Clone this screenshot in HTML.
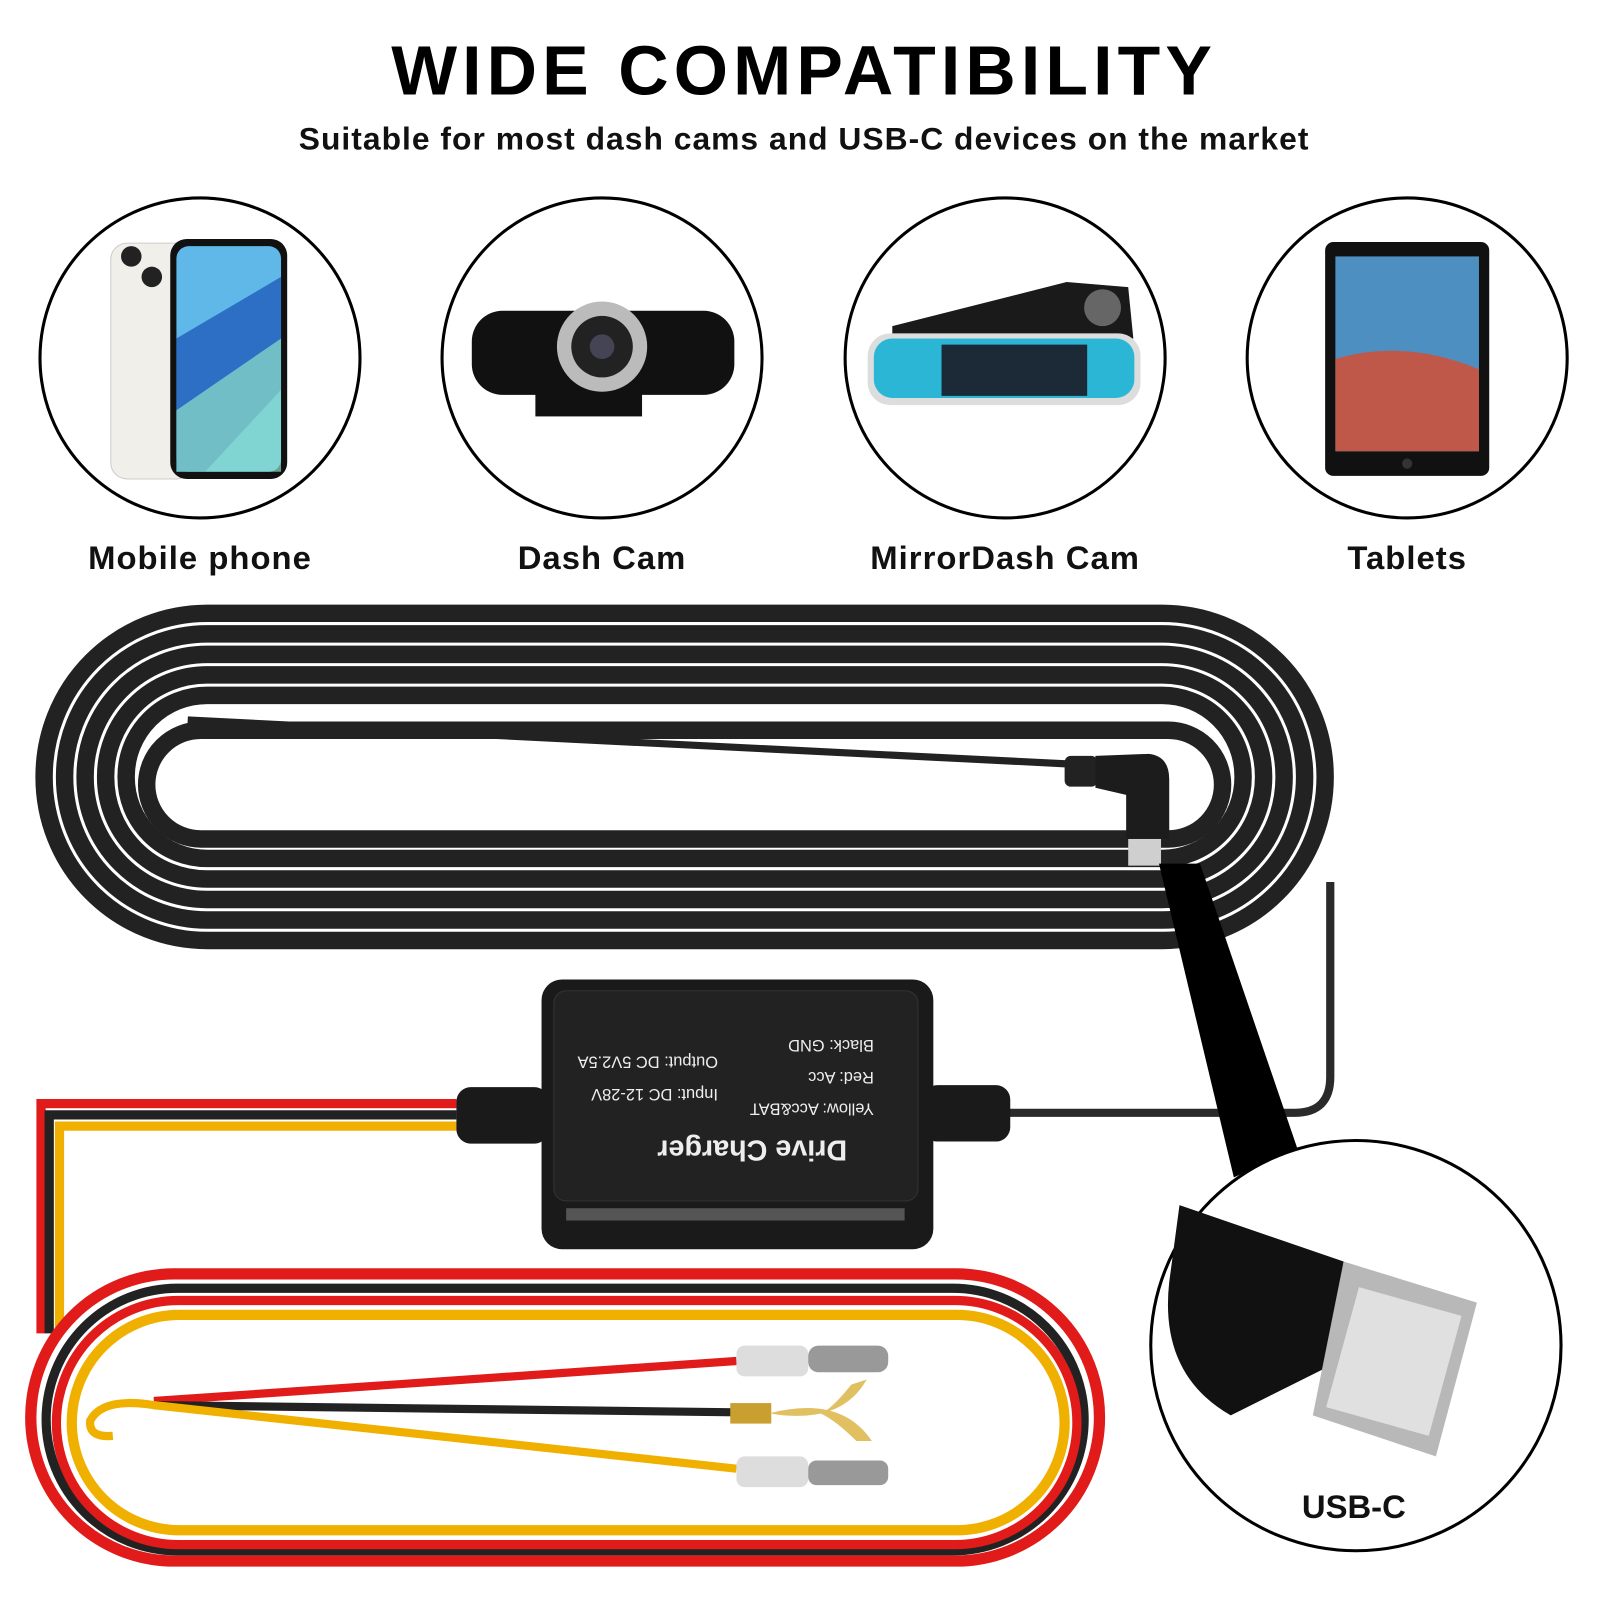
<!DOCTYPE html>
<html><head><meta charset="utf-8"><style>
html,body{margin:0;padding:0;background:#fff}
svg{display:block}
text{font-family:"Liberation Sans",sans-serif;font-weight:bold}
</style></head><body>
<svg width="1600" height="1600" viewBox="0 0 1560 1560" xmlns="http://www.w3.org/2000/svg">
<rect width="1560" height="1560" fill="#fff"/>
<text x="784" y="92" font-size="68" text-anchor="middle" fill="#000" letter-spacing="5">WIDE COMPATIBILITY</text>
<text x="784" y="146" font-size="31" text-anchor="middle" fill="#111" letter-spacing="1">Suitable for most dash cams and USB-C devices on the market</text>

<g fill="none" stroke="#000" stroke-width="3">
<circle cx="195" cy="349" r="156"/><circle cx="587" cy="349" r="156"/>
<circle cx="980" cy="349" r="156"/><circle cx="1372" cy="349" r="156"/>
</g>
<rect x="108" y="237" width="80" height="230" rx="16" fill="#f1efe9" stroke="#ccc"/>
<circle cx="128" cy="250" r="10" fill="#222"/><circle cx="148" cy="270" r="10" fill="#222"/>
<rect x="166" y="233" width="114" height="234" rx="16" fill="#111"/>
<rect x="172" y="240" width="102" height="220" rx="12" fill="#5fb8e8"/>
<path d="M172 330 L274 270 L274 380 L200 460 L172 460Z" fill="#2c6fc4"/>
<path d="M172 400 L274 330 L274 460 L172 460Z" fill="#8fe0c8" opacity=".7"/>
<rect x="460" y="303" width="256" height="82" rx="30" fill="#111"/>
<rect x="522" y="380" width="104" height="26" fill="#111"/>
<circle cx="587" cy="338" r="44" fill="#bbb"/><circle cx="587" cy="338" r="30" fill="#222"/><circle cx="587" cy="338" r="12" fill="#445"/>
<path d="M870 318 L1040 275 L1100 280 L1105 330 L870 330Z" fill="#1a1a1a"/>
<circle cx="1075" cy="300" r="18" fill="#666"/>
<rect x="846" y="325" width="266" height="70" rx="22" fill="#ddd"/>
<rect x="852" y="330" width="254" height="58" rx="18" fill="#2cb6d6"/>
<rect x="918" y="336" width="142" height="50" fill="#1c2a38"/>
<rect x="1292" y="236" width="160" height="228" rx="8" fill="#111"/>
<rect x="1302" y="250" width="140" height="190" fill="#4d8fc0"/>
<path d="M1302 350 Q1370 330 1442 360 L1442 440 L1302 440Z" fill="#c0584a"/>
<circle cx="1372" cy="452" r="5" fill="#333"/>

<g font-size="32" text-anchor="middle" fill="#111" letter-spacing="1">
<text x="195" y="555">Mobile phone</text><text x="587" y="555">Dash Cam</text>
<text x="980" y="555">MirrorDash Cam</text><text x="1372" y="555">Tablets</text>
</g>

<g fill="none" stroke="#222" stroke-width="17">
<rect x="43" y="598" width="1249" height="319" rx="159"/>
<rect x="63" y="618" width="1209" height="279" rx="139"/>
<rect x="83" y="638" width="1169" height="239" rx="119"/>
<rect x="103" y="658" width="1129" height="199" rx="99"/>
<rect x="123" y="678" width="1089" height="159" rx="79"/>
<rect x="143" y="712" width="1049" height="106" rx="53"/>
</g>
<path d="M183 702 L1045 745" stroke="#222" stroke-width="7" fill="none"/>
<path d="M1297 860 L1297 1050 Q1297 1085 1262 1085 L980 1085" stroke="#2a2a2a" stroke-width="8" fill="none"/>
<rect x="1038" y="737" width="32" height="30" rx="6" fill="#222"/>
<path d="M1068 737 L1120 735 Q1140 737 1140 760 L1140 818 L1098 818 L1098 775 L1068 768Z" fill="#1c1c1c"/>
<rect x="1100" y="818" width="32" height="26" fill="#cfcfcf"/>
<path d="M1130 842 L1170 842 L1265 1120 L1203 1148Z" fill="#000"/>
<circle cx="1322" cy="1312" r="200" fill="#fff" stroke="#000" stroke-width="3"/>
<path d="M1150 1175 L1310 1230 L1300 1330 L1200 1380 Q1130 1340 1140 1250Z" fill="#111"/>
<path d="M1310 1230 L1440 1270 L1400 1420 L1280 1380Z" fill="#b8b8b8"/>
<path d="M1325 1255 L1425 1283 L1393 1400 L1293 1372Z" fill="#e0e0e0"/>
<text x="1320" y="1480" font-size="32" text-anchor="middle" fill="#111">USB-C</text>

<g fill="none" stroke-width="9">
<path d="M445 1076 L40 1076 L40 1300" stroke="#e11a1a"/>
<path d="M445 1087 L48 1087 L48 1300" stroke="#222"/>
<path d="M445 1098 L58 1098 L58 1300" stroke="#f0b000"/>
<rect x="30" y="1242" width="1042" height="280" rx="140" stroke="#e11a1a" stroke-width="11"/>
<rect x="45" y="1256" width="1012" height="256" rx="128" stroke="#222"/>
<rect x="55" y="1268" width="995" height="238" rx="119" stroke="#e11a1a"/>
<rect x="70" y="1282" width="968" height="210" rx="105" stroke="#f0b000" stroke-width="10"/>
<path d="M150 1366 L718 1327" stroke="#e11a1a" stroke-width="8"/>
<path d="M150 1370 L718 1377" stroke="#222" stroke-width="8"/>
<path d="M718 1432 L150 1370 Q100 1362 88 1385 Q86 1402 110 1400" stroke="#f0b000" stroke-width="8"/>
</g>
<rect x="718" y="1312" width="70" height="30" rx="8" fill="#ddd"/><rect x="788" y="1312" width="78" height="26" rx="10" fill="#999"/>
<rect x="712" y="1368" width="40" height="20" fill="#c9a030"/><path d="M750 1378 Q820 1390 845 1345 L830 1350 Q810 1375 800 1378 Q815 1385 835 1405 L850 1405 Q820 1360 750 1378Z" fill="#e0c060"/>
<rect x="718" y="1420" width="70" height="30" rx="8" fill="#ddd"/><rect x="788" y="1424" width="78" height="24" rx="8" fill="#999"/>

<rect x="445" y="1060" width="90" height="55" rx="14" fill="#1a1a1a"/>
<rect x="900" y="1058" width="85" height="55" rx="14" fill="#1a1a1a"/>
<rect x="528" y="955" width="382" height="263" rx="20" fill="#1a1a1a"/>
<rect x="540" y="966" width="355" height="205" rx="12" fill="#222" stroke="#333"/>
<rect x="552" y="1178" width="330" height="12" fill="#555"/>
<g fill="#eee" transform="rotate(180 718 1060)">
<text x="584" y="1106" font-size="16" style="font-weight:normal">Black: GND</text>
<text x="584" y="1075" font-size="16" style="font-weight:normal">Red: Acc</text>
<text x="584" y="1044" font-size="16" style="font-weight:normal">Yellow: Acc&amp;BAT</text>
<text x="736" y="1090" font-size="16" style="font-weight:normal">Output: DC 5V2.5A</text>
<text x="736" y="1058" font-size="16" style="font-weight:normal">Input: DC 12-28V</text>
<text x="610" y="1008" font-size="28">Drive Charger</text>
</g>
</svg>
</body></html>
